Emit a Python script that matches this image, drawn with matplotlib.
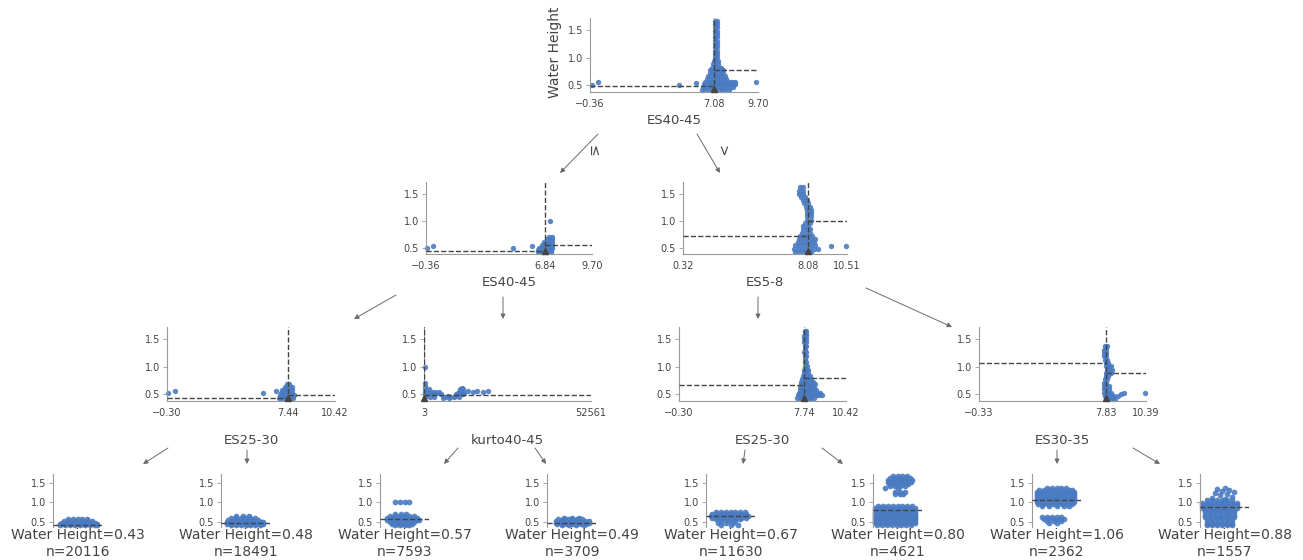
import matplotlib
matplotlib.use('Agg')
import matplotlib.pyplot as plt
from matplotlib.transforms import offset_copy

W, H = 1303, 560
TEXT = '#444443'
SPINE = '#9a9a9a'
BLUE = '#4a7bc2'
YLIM = (0.38, 1.72)
YTICKS = [0.5, 1.0, 1.5]
TARGET = 'Water Height'

# ---------------- decision nodes ----------------
root_feature = 'ES40-45'
root_range = (-0.36, 9.70)
root_split = 7.08
root_means = (0.48, 0.77)
root_ticklabels = ['\u22120.36', '7.08', '9.70']
root_rows = [
    (1.67, [7.14, 7.24]), (1.61, [7.14, 7.24]), (1.55, [7.14, 7.24]), (1.49, [7.14, 7.24]),
    (1.43, [7.14, 7.24]), (1.37, [7.14, 7.24]), (1.31, [7.14, 7.24]), (1.25, [7.14, 7.24]),
    (1.19, [7.14, 7.24]), (1.13, [7.14, 7.24]), (1.07, [7.12, 7.26]), (1.01, [7.12, 7.26]),
    (0.95, [7.05, 7.2, 7.32]), (0.89, [7.0, 7.15, 7.3]),
    (0.82, [6.95, 7.15, 7.35, 7.5]),
    (0.77, [6.85, 7.05, 7.25, 7.45, 7.6]),
    (0.72, [6.8, 7.0, 7.2, 7.4, 7.6]),
    (0.67, [6.7, 6.9, 7.1, 7.3, 7.5, 7.7]),
    (0.62, [6.65, 6.85, 7.05, 7.25, 7.45, 7.65, 7.8]),
    (0.57, [6.55, 6.75, 6.95, 7.15, 7.35, 7.55, 7.75, 7.95, 8.15, 8.3]),
    (0.52, [6.45, 6.65, 6.85, 7.05, 7.25, 7.45, 7.65, 7.85, 8.05, 8.25, 8.35]),
    (0.47, [6.4, 6.6, 6.8, 7.0, 7.2, 7.4, 7.6, 7.8, 8.0, 8.2]),
    (0.42, [6.35, 6.55, 6.75, 6.95, 7.15, 7.35, 7.55, 7.75, 7.95]),
    (0.51, [-0.26, 4.97]), (0.56, [0.12, 9.6]), (0.55, [5.97]),
]

midl_feature = 'ES40-45'
midl_range = (-0.36, 9.70)
midl_split = 6.84
midl_means = (0.44, 0.54)
midl_ticklabels = ['\u22120.36', '6.84', '9.70']
midl_rows = [
    (0.99, [7.15]),
    (0.70, [7.1, 7.25]),
    (0.65, [6.95, 7.1, 7.25]),
    (0.60, [6.8, 6.95, 7.1, 7.25]),
    (0.55, [6.65, 6.8, 6.95, 7.1, 7.25]),
    (0.50, [6.5, 6.65, 6.8, 6.95, 7.1, 7.25]),
    (0.45, [6.45, 6.6, 6.75, 6.9, 7.05, 7.2]),
    (0.41, [6.45, 6.6, 6.75, 6.9, 7.05, 7.2]),
    (0.49, [-0.32, 4.93]), (0.53, [0.08, 6.04]),
]

midr_feature = 'ES5-8'
midr_range = (0.32, 10.51)
midr_split = 8.08
midr_means = (0.71, 0.99)
midr_ticklabels = ['0.32', '8.08', '10.51']
midr_rows = [
    (1.62, [7.6, 7.75]), (1.56, [7.55, 7.75]), (1.50, [7.55, 7.8]), (1.44, [7.65, 7.9]),
    (1.38, [7.75, 8.0]), (1.32, [7.85, 8.1]), (1.26, [7.95, 8.2]), (1.20, [8.0, 8.25]),
    (1.14, [8.0, 8.3]), (1.08, [8.0, 8.3]), (1.02, [8.0, 8.3]), (0.96, [7.9, 8.2]),
    (0.90, [7.8, 8.1]), (0.84, [7.75, 8.0, 8.2]),
    (0.78, [7.7, 7.95, 8.2]),
    (0.72, [7.6, 7.85, 8.1, 8.35]),
    (0.66, [7.5, 7.75, 8.0, 8.25, 8.5]),
    (0.60, [7.45, 7.7, 7.95, 8.2, 8.45]),
    (0.54, [7.3, 7.55, 7.8, 8.05, 8.3, 8.55]),
    (0.48, [7.2, 7.45, 7.7, 7.95, 8.2, 8.45, 8.7]),
    (0.42, [7.3, 7.55, 7.8, 8.05, 8.3]),
    (0.52, [9.5]), (0.53, [10.45]),
]

n3a_feature = 'ES25-30'
n3a_range = (-0.30, 10.42)
n3a_split = 7.44
n3a_means = (0.43, 0.48)
n3a_ticklabels = ['\u22120.30', '7.44', '10.42']
n3a_rows = [
    (0.68, [7.35, 7.5]),
    (0.63, [7.2, 7.35, 7.5, 7.65]),
    (0.58, [7.05, 7.2, 7.35, 7.5, 7.65]),
    (0.53, [6.95, 7.1, 7.25, 7.4, 7.55, 7.7]),
    (0.48, [6.9, 7.05, 7.2, 7.35, 7.5, 7.65, 7.8]),
    (0.43, [6.85, 7.0, 7.15, 7.3, 7.45, 7.6, 7.75]),
    (0.53, [-0.22, 5.83]), (0.56, [0.21, 6.68]),
]

n3b_feature = 'kurto40-45'
n3b_range = (3, 52561)
n3b_split = 3
n3b_means = (0.57, 0.49)
n3b_ticklabels = ['3', '52561']
n3b_rows = [
    (1.00, [300]),
    (0.70, [300]), (0.65, [300]), (0.60, [300, 1500]), (0.55, [300, 1200, 2400, 3600, 4800]),
    (0.50, [300, 1000, 3000, 5400, 10000, 11600, 12300]),
    (0.45, [300, 2000, 3300, 6600, 8200, 9300, 11000]),
    (0.52, [1800, 4200, 10600, 12600]), (0.47, [7500, 9900]), (0.43, [6000, 8000]),
    (0.57, [11800, 13900, 16800]), (0.60, [11400, 12200]), (0.62, [12000]),
    (0.55, [11000, 15500, 18500]), (0.56, [20000]),
]

n3c_feature = 'ES25-30'
n3c_range = (-0.30, 10.42)
n3c_split = 7.74
n3c_means = (0.67, 0.80)
n3c_ticklabels = ['\u22120.30', '7.74', '10.42']
n3c_rows = [
    (1.65, [7.78, 7.88]), (1.60, [7.78, 7.88]), (1.55, [7.75, 7.85]), (1.50, [7.75, 7.85]),
    (1.44, [7.75, 7.85]), (1.38, [7.78, 7.88]), (1.32, [7.78]), (1.26, [7.75, 7.85]),
    (1.20, [7.78, 7.88]), (1.14, [7.8]), (1.08, [7.78, 7.88]), (1.02, [7.8, 7.9]),
    (0.95, [7.75, 7.85, 7.95]),
    (0.88, [7.7, 7.85, 8.0]),
    (0.83, [7.65, 7.8, 7.95, 8.1]),
    (0.78, [7.6, 7.75, 7.9, 8.05, 8.2]),
    (0.73, [7.55, 7.7, 7.85, 8.0, 8.15, 8.3]),
    (0.68, [7.5, 7.65, 7.8, 7.95, 8.1, 8.25, 8.4]),
    (0.63, [7.45, 7.6, 7.75, 7.9, 8.05, 8.2, 8.35]),
    (0.58, [7.45, 7.6, 7.75, 7.9, 8.05, 8.2, 8.35, 8.5]),
    (0.53, [7.4, 7.55, 7.7, 7.85, 8.0, 8.15, 8.3, 8.45, 8.6, 8.75]),
    (0.48, [7.35, 7.5, 7.65, 7.8, 7.95, 8.1, 8.25, 8.4, 8.55, 8.7, 8.85]),
    (0.43, [7.3, 7.45, 7.6, 7.75, 7.9, 8.05, 8.2, 8.35]),
]

n3d_feature = 'ES30-35'
n3d_range = (-0.33, 10.39)
n3d_split = 7.83
n3d_means = (1.06, 0.88)
n3d_ticklabels = ['\u22120.33', '7.83', '10.39']
n3d_rows = [
    (1.37, [7.75, 7.9]), (1.31, [7.7, 7.85]), (1.25, [7.7, 7.85]), (1.19, [7.7, 7.85]),
    (1.13, [7.75, 7.9]), (1.07, [7.8, 7.95]), (1.01, [7.85, 8.0, 8.15]),
    (0.95, [7.9, 8.05, 8.2]), (0.89, [7.85, 8.0, 8.15]), (0.83, [7.8, 7.95]),
    (0.77, [7.75, 7.9]), (0.71, [7.7, 7.85]), (0.65, [7.7, 7.85, 8.0]),
    (0.59, [7.7, 7.85, 8.0]), (0.53, [7.7, 7.85, 8.0, 8.15]),
    (0.47, [7.75, 7.9, 8.05, 8.2, 8.35, 8.6]),
    (0.42, [7.8, 7.95, 8.1, 8.25, 8.4]),
    (0.50, [8.8]), (0.52, [9.0]), (0.53, [10.32]),
]

# ---------------- leaves ----------------
leaf_values = [0.43, 0.48, 0.57, 0.49, 0.67, 0.80, 1.06, 0.88]
leaf_counts = [20116, 18491, 7593, 3709, 11630, 4621, 2362, 1557]

leaf1_rows = [
    (0.57, [0.3, 0.4, 0.5, 0.6, 0.7]),
    (0.53, [0.22, 0.32, 0.42, 0.52, 0.62, 0.72, 0.8]),
    (0.49, [0.18, 0.28, 0.38, 0.48, 0.58, 0.68, 0.78, 0.86]),
    (0.45, [0.15, 0.25, 0.35, 0.45, 0.55, 0.65, 0.75, 0.85, 0.9]),
    (0.42, [0.15, 0.25, 0.35, 0.45, 0.55, 0.65, 0.75, 0.85, 0.9]),
]
leaf2_rows = [
    (0.66, [0.3, 0.45, 0.58]),
    (0.61, [0.2, 0.3, 0.4, 0.5, 0.6, 0.7]),
    (0.56, [0.15, 0.25, 0.35, 0.45, 0.55, 0.65, 0.75]),
    (0.51, [0.12, 0.22, 0.32, 0.42, 0.52, 0.62, 0.72, 0.82, 0.86]),
    (0.46, [0.12, 0.22, 0.32, 0.42, 0.52, 0.62, 0.72, 0.82, 0.86]),
    (0.42, [0.2, 0.3, 0.4, 0.5, 0.6, 0.7, 0.8]),
]
leaf3_rows = [
    (1.00, [0.3, 0.4, 0.5, 0.6]),
    (0.71, [0.3, 0.42, 0.54]),
    (0.66, [0.2, 0.3, 0.4, 0.5, 0.6, 0.7]),
    (0.61, [0.15, 0.25, 0.35, 0.45, 0.55, 0.65, 0.75]),
    (0.56, [0.15, 0.25, 0.35, 0.45, 0.55, 0.65, 0.75, 0.8]),
    (0.51, [0.2, 0.3, 0.4, 0.5, 0.6, 0.7]),
    (0.46, [0.25, 0.35, 0.45, 0.55, 0.65]),
    (0.42, [0.3, 0.4, 0.5, 0.6]),
]
leaf4_rows = [
    (0.61, [0.35, 0.5, 0.65]),
    (0.57, [0.22, 0.32, 0.42, 0.52, 0.62, 0.72]),
    (0.53, [0.18, 0.28, 0.38, 0.48, 0.58, 0.68, 0.78, 0.86]),
    (0.49, [0.18, 0.28, 0.38, 0.48, 0.58, 0.68, 0.78, 0.86]),
    (0.45, [0.2, 0.3, 0.4, 0.5, 0.6, 0.7, 0.8]),
    (0.42, [0.3, 0.45, 0.6, 0.75]),
]
leaf5_rows = [
    (0.77, [0.2, 0.3, 0.4, 0.5, 0.6, 0.7, 0.8]),
    (0.72, [0.12, 0.22, 0.32, 0.42, 0.52, 0.62, 0.72, 0.82]),
    (0.67, [0.1, 0.2, 0.3, 0.4, 0.5, 0.6, 0.7, 0.8, 0.86]),
    (0.62, [0.12, 0.22, 0.32, 0.42, 0.52, 0.62, 0.72, 0.82]),
    (0.58, [0.2, 0.3, 0.4, 0.5, 0.6, 0.7]),
    (0.52, [0.3, 0.45, 0.6]),
    (0.47, [0.25, 0.4, 0.55]),
    (0.43, [0.3, 0.5, 0.65]),
]
leaf6_rows = [
    (1.66, [0.4, 0.5, 0.6, 0.7]),
    (1.61, [0.35, 0.45, 0.55, 0.65, 0.75]),
    (1.56, [0.3, 0.4, 0.5, 0.6, 0.7, 0.8]),
    (1.51, [0.3, 0.4, 0.5, 0.6, 0.7, 0.78]),
    (1.46, [0.32, 0.42, 0.52, 0.62, 0.72]),
    (1.41, [0.35, 0.45, 0.55, 0.65]),
    (1.36, [0.25, 0.5]),
    (1.26, [0.45, 0.55, 0.65]),
    (1.21, [0.45, 0.55, 0.62]),
    (0.92, [0.1, 0.2, 0.3, 0.4, 0.5, 0.6, 0.7, 0.8]),
    (0.87, [0.05, 0.15, 0.25, 0.35, 0.45, 0.55, 0.65, 0.75, 0.85]),
    (0.82, [0.05, 0.15, 0.25, 0.35, 0.45, 0.55, 0.65, 0.75, 0.85]),
    (0.77, [0.05, 0.15, 0.25, 0.35, 0.45, 0.55, 0.65, 0.75, 0.85]),
    (0.72, [0.05, 0.15, 0.25, 0.35, 0.45, 0.55, 0.65, 0.75, 0.85]),
    (0.67, [0.05, 0.15, 0.25, 0.35, 0.45, 0.55, 0.65, 0.75, 0.85]),
    (0.62, [0.05, 0.15, 0.25, 0.35, 0.45, 0.55, 0.65, 0.75, 0.85]),
    (0.57, [0.05, 0.15, 0.25, 0.35, 0.45, 0.55, 0.65, 0.75, 0.85]),
    (0.52, [0.05, 0.15, 0.25, 0.35, 0.45, 0.55, 0.65, 0.75, 0.85]),
    (0.47, [0.05, 0.15, 0.25, 0.35, 0.45, 0.55, 0.65, 0.75, 0.85]),
    (0.42, [0.08, 0.18, 0.28, 0.38, 0.48, 0.58, 0.68, 0.78]),
]
leaf7_rows = [
    (1.37, [0.3, 0.4, 0.5, 0.6, 0.7]),
    (1.32, [0.15, 0.25, 0.35, 0.45, 0.55, 0.65, 0.75, 0.82]),
    (1.27, [0.1, 0.2, 0.3, 0.4, 0.5, 0.6, 0.7, 0.8, 0.86]),
    (1.22, [0.1, 0.2, 0.3, 0.4, 0.5, 0.6, 0.7, 0.8, 0.86]),
    (1.17, [0.1, 0.2, 0.3, 0.4, 0.5, 0.6, 0.7, 0.8, 0.86]),
    (1.12, [0.1, 0.2, 0.3, 0.4, 0.5, 0.6, 0.7, 0.8, 0.86]),
    (1.07, [0.1, 0.2, 0.3, 0.4, 0.5, 0.6, 0.7, 0.8, 0.86]),
    (1.02, [0.1, 0.2, 0.3, 0.4, 0.5, 0.6, 0.7, 0.8, 0.86]),
    (0.97, [0.12, 0.22, 0.32, 0.42, 0.52, 0.62, 0.72, 0.82]),
    (0.92, [0.2, 0.35, 0.5, 0.65, 0.75]),
    (0.64, [0.2, 0.3, 0.4, 0.5, 0.6]),
    (0.59, [0.25, 0.35, 0.45, 0.55, 0.65]),
    (0.53, [0.3, 0.45, 0.6]),
    (0.48, [0.35, 0.5]),
]
leaf8_rows = [
    (1.37, [0.5]), (1.35, [0.35]), (1.32, [0.6]), (1.30, [0.45]), (1.27, [0.7]),
    (1.25, [0.3]), (1.22, [0.55]), (1.18, [0.4]), (1.15, [0.65]), (1.12, [0.25]), (1.10, [0.5]),
    (1.05, [0.15, 0.25, 0.35, 0.45, 0.55, 0.65]),
    (0.99, [0.05, 0.15, 0.25, 0.35, 0.45, 0.55, 0.65, 0.75]),
    (0.93, [0.05, 0.15, 0.25, 0.35, 0.45, 0.55, 0.65, 0.75]),
    (0.87, [0.05, 0.15, 0.25, 0.35, 0.45, 0.55, 0.65, 0.75]),
    (0.81, [0.1, 0.2, 0.3, 0.4, 0.5, 0.6, 0.7]),
    (0.75, [0.1, 0.2, 0.3, 0.4, 0.5, 0.6, 0.7]),
    (0.69, [0.1, 0.2, 0.3, 0.4, 0.5, 0.6, 0.7]),
    (0.63, [0.1, 0.2, 0.3, 0.4, 0.5, 0.6, 0.7]),
    (0.57, [0.15, 0.25, 0.35, 0.45, 0.55, 0.65]),
    (0.51, [0.15, 0.25, 0.35, 0.45, 0.55, 0.65]),
    (0.46, [0.15, 0.25, 0.35, 0.45, 0.55, 0.65]),
    (0.42, [0.15, 0.25, 0.35, 0.45, 0.55, 0.65]),
]
leaf_rows = [leaf1_rows, leaf2_rows, leaf3_rows, leaf4_rows,
             leaf5_rows, leaf6_rows, leaf7_rows, leaf8_rows]

# ---------------- drawing ----------------
fig = plt.figure(figsize=(W / 100, H / 100), dpi=100)
fig.patch.set_facecolor('white')


def px_axes(x0, y0, x1, y1):
    return fig.add_axes([x0 / W, 1 - y1 / H, (x1 - x0) / W, (y1 - y0) / H])


def expand(rows):
    xs, ys = [], []
    for y, xl in rows:
        for x in xl:
            xs.append(x)
            ys.append(y)
    return xs, ys


def style_y(ax):
    ax.set_ylim(*YLIM)
    ax.set_yticks(YTICKS)
    ax.set_yticklabels(['0.5', '1.0', '1.5'])
    ax.tick_params(axis='y', length=3, width=0.6, color=SPINE, labelsize=7,
                   labelcolor=TEXT, pad=2)
    for s in ('top', 'right'):
        ax.spines[s].set_visible(False)
    for s in ('left', 'bottom'):
        ax.spines[s].set_color(SPINE)
        ax.spines[s].set_linewidth(0.8)
    ax.patch.set_alpha(0)


def node_panel(rect, feature, xr, split, means, ticklabels, rows, label_y):
    ax = px_axes(*rect)
    xs, ys = expand(rows)
    ax.scatter(xs, ys, s=15, c=BLUE, alpha=0.9, linewidths=0, zorder=2, clip_on=False)
    ax.set_xlim(*xr)
    style_y(ax)
    ax.plot([xr[0], split], [means[0], means[0]], ls='--', color=TEXT, lw=1, zorder=3)
    ax.plot([split, xr[1]], [means[1], means[1]], ls='--', color=TEXT, lw=1, zorder=3)
    ax.plot([split, split], list(YLIM), ls='--', color=TEXT, lw=1, zorder=3)
    tr = offset_copy(ax.transData, fig=fig, y=3, units='dots')
    ax.plot([split], [YLIM[0]], marker='^', ms=5, color=TEXT, transform=tr,
            clip_on=False, zorder=5, linestyle='none')
    if len(ticklabels) == 3:
        ax.set_xticks([xr[0], split, xr[1]])
    else:
        ax.set_xticks([xr[0], xr[1]])
    ax.set_xticklabels(ticklabels)
    ax.tick_params(axis='x', length=0, pad=5, labelsize=7, labelcolor=TEXT)
    cx = (rect[0] + rect[2]) / 2
    fig.text(cx / W, 1 - label_y / H, feature, ha='center', va='center',
             fontsize=9.5, color=TEXT)
    return ax


root_ax = node_panel((590, 18, 758, 92), root_feature, root_range, root_split,
                     root_means, root_ticklabels, root_rows, 120)
fig.text(555 / W, 1 - 52 / H, TARGET, rotation=90, ha='center', va='center',
         fontsize=10, color=TEXT)

node_panel((426, 182, 592, 254), midl_feature, midl_range, midl_split,
           midl_means, midl_ticklabels, midl_rows, 283)
node_panel((683, 182, 847, 254), midr_feature, midr_range, midr_split,
           midr_means, midr_ticklabels, midr_rows, 283)

node_panel((167, 327, 335, 401), n3a_feature, n3a_range, n3a_split,
           n3a_means, n3a_ticklabels, n3a_rows, 441)
node_panel((424, 327, 591, 401), n3b_feature, n3b_range, n3b_split,
           n3b_means, n3b_ticklabels, n3b_rows, 441)
node_panel((679, 327, 846, 401), n3c_feature, n3c_range, n3c_split,
           n3c_means, n3c_ticklabels, n3c_rows, 441)
node_panel((979, 327, 1146, 401), n3d_feature, n3d_range, n3d_split,
           n3d_means, n3d_ticklabels, n3d_rows, 441)

leaf_left = [53, 221, 380, 547, 706, 873, 1032, 1200]
for x0, val, n, rows in zip(leaf_left, leaf_values, leaf_counts, leaf_rows):
    ax = px_axes(x0, 474, x0 + 49, 527)
    xs, ys = expand(rows)
    ax.scatter(xs, ys, s=17, c=BLUE, alpha=0.9, linewidths=0, zorder=2, clip_on=False)
    ax.set_xlim(0, 1)
    style_y(ax)
    ax.spines['bottom'].set_visible(False)
    ax.set_xticks([])
    ax.plot([0, 1], [val, val], ls='--', color=TEXT, lw=1, zorder=3)
    cx = x0 + 25
    fig.text(cx / W, 1 - 535 / H, f'{TARGET}={val:.2f}', ha='center', va='center',
             fontsize=10, color=TEXT)
    fig.text(cx / W, 1 - 552 / H, f'n={n}', ha='center', va='center',
             fontsize=10, color=TEXT)

# ---------------- edges ----------------
ov = fig.add_axes([0, 0, 1, 1])
ov.set_xlim(0, W)
ov.set_ylim(H, 0)
ov.axis('off')
ov.set_zorder(-1)

edges = [
    ((598, 134), (560, 173)), ((697, 134), (720, 173)),
    ((396, 295), (354, 319)), ((503, 297), (503, 319)),
    ((758, 297), (758, 319)), ((866, 288), (952, 327)),
    ((168, 448), (143, 464)), ((247, 450), (247, 464)),
    ((458, 448), (444, 464)), ((535, 448), (546, 464)),
    ((745, 450), (743, 464)), ((822, 448), (843, 464)),
    ((1057, 450), (1057, 464)), ((1133, 448), (1160, 464)),
]
for start, tip in edges:
    ov.annotate('', xy=tip, xytext=start,
                arrowprops=dict(arrowstyle='-|>', color='#6b6b6b', lw=0.7,
                                mutation_scale=7, shrinkA=0, shrinkB=0))

ov.text(593, 151, '\u2264', rotation=-90, ha='center', va='center', fontsize=10, color=TEXT)
ov.text(722, 151, '>', rotation=-90, ha='center', va='center', fontsize=10, color=TEXT)

fig.savefig('out.png', dpi=100, facecolor='white')
